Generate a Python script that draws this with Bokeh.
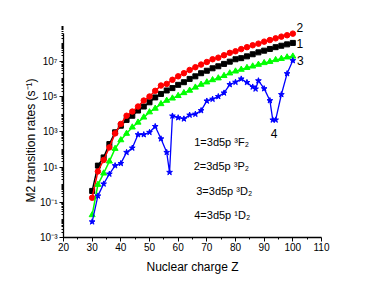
import math
from bokeh.plotting import figure
from bokeh.models import Range1d, FixedTicker, Label, Title
from bokeh.embed import file_html
from bokeh.resources import INLINE

Z = [30, 32, 34, 36, 38, 40, 42, 44, 46, 48, 50, 52, 54, 56, 58, 60, 62, 64,
     66, 68, 70, 72, 74, 76, 78, 80, 82, 84, 86, 88, 90, 92, 94, 96, 98, 100]

rate_3F2 = [4.4e-1, 1.2e1, 3.5e1, 2.0e2, 9.3e2, 2.2e3, 4.7e3, 8.1e3, 1.6e4, 2.7e4,
            4.7e4, 8.9e4, 1.4e5, 2.2e5, 3.0e5, 4.6e5, 6.5e5, 1.0e6, 1.4e6, 2.1e6,
            2.9e6, 4.0e6, 5.2e6, 7.1e6, 9.5e6, 1.3e7, 1.5e7, 1.9e7, 2.5e7, 3.2e7,
            4.0e7, 5.0e7, 6.3e7, 7.6e7, 9.1e7, 1.1e8]

rate_3P2 = [1.8e-1, 5.6, 2.5e1, 1.3e2, 8.1e2, 2.8e3, 8.1e3, 1.4e4, 2.7e4, 5.9e4,
            1.0e5, 2.1e5, 4.2e5, 5.2e5, 8.9e5, 1.4e6, 2.1e6, 3.2e6, 4.6e6, 6.5e6,
            9.1e6, 1.3e7, 1.6e7, 2.2e7, 3.0e7, 3.7e7, 4.9e7, 6.3e7, 8.1e7, 1.0e8,
            1.3e8, 1.6e8, 2.0e8, 2.5e8, 3.0e8, 3.7e8]

rate_3D2 = [1.9e-2, 1.0, 4.4, 2.1e1, 1.1e2, 3.4e2, 7.9e2, 1.8e3, 3.4e3, 6.6e3,
            1.3e4, 2.1e4, 3.8e4, 5.9e4, 7.9e4, 1.1e5, 1.6e5, 2.2e5, 3.3e5, 4.8e5,
            6.5e5, 8.7e5, 1.1e6, 1.5e6, 2.1e6, 2.7e6, 3.4e6, 4.3e6, 5.2e6, 6.5e6,
            8.1e6, 9.5e6, 1.2e7, 1.4e7, 1.7e7, 1.9e7]

Z4 = [30, 32, 34, 36, 38, 40, 42, 44, 46, 48, 50, 52, 54, 56, 57, 58, 60, 62, 64,
      66, 68, 70, 72, 74, 76, 78, 80, 82, 84, 86, 87, 88, 90, 92, 93, 94, 96, 98, 100]
rate_1D2 = [7.8e-3, 2.3e-1, 1.1, 4.0, 1.2e1, 1.6e1, 6.8e1, 1.2e2, 6.9e2, 6.9e2,
            9.3e2, 2.0e3, 4.0e2, 6.8e1, 5.0, 7.9e3, 6.3e3, 5.4e3, 8.9e3,
            1.0e4, 1.6e4, 5.6e4, 7.1e4, 1.0e5, 1.6e5, 4.8e5, 6.5e5, 1.0e6, 6.3e5,
            3.5e5, 2.7e5, 7.9e5, 2.8e5, 5.9e4, 4.7e3, 4.7e3, 1.3e5, 2.0e6, 1.1e7]

y_tick_values = [1e-3, 1e-1, 1e1, 1e3, 1e5, 1e7]
y_tick_labels = ["10\u207b\u00b3", "10\u207b\u00b9", "10\u00b9", "10\u00b3", "10\u2075", "10\u2077"]
x_ticks = [20, 30, 40, 50, 60, 70, 80, 90, 100, 110]

legend_texts = ["1=3d5p \u00b3F\u2082", "2=3d5p \u00b3P\u2082", "3=3d5p \u00b3D\u2082", "4=3d5p \u00b9D\u2082"]
curve_tags = ["1", "2", "3", "4"]

FONT = "Liberation Sans"

p = figure(width=370, height=282, x_range=Range1d(20, 110), y_range=Range1d(1e-3, 10 ** 9.2),
           y_axis_type="log", output_backend="svg", toolbar_location=None,
           min_border_left=63, min_border_right=49, min_border_top=22, min_border_bottom=45)
p.outline_line_color = None
p.grid.visible = False
p.background_fill_color = "white"

minor_y = [m * 10.0 ** e for e in range(-3, 9) for m in range(1, 10)]
p.yaxis.ticker = FixedTicker(ticks=y_tick_values, minor_ticks=minor_y)
p.yaxis.major_label_overrides = {v: t for v, t in zip(y_tick_values, y_tick_labels)}
p.yaxis.bounds = (1e-3, 3.7e8)
p.xaxis.ticker = FixedTicker(ticks=x_ticks, minor_ticks=[25, 35, 45, 55, 65, 75, 85, 95, 105])

for ax in (p.xaxis[0], p.yaxis[0]):
    ax.axis_line_color = "black"
    ax.axis_line_width = 1.3
    ax.major_tick_line_color = "black"
    ax.minor_tick_line_color = "black"
    ax.major_tick_in = 0
    ax.minor_tick_in = 0
    ax.major_tick_out = 4
    ax.minor_tick_out = 2
    ax.major_label_text_font = FONT
    ax.major_label_text_font_size = "10px"
    ax.major_label_text_color = "black"
    ax.axis_label_text_font = FONT
    ax.axis_label_text_font_style = "normal"
    ax.axis_label_text_font_size = "12px"
    ax.axis_label_text_color = "black"

p.xaxis.major_label_standoff = 1
p.yaxis.major_label_standoff = 2
p.xaxis.axis_label = "Nuclear charge Z"
p.xaxis.axis_label_standoff = 6

# y axis title
p.add_layout(Title(text="M2 transition rates (s\u207b\u00b9)", align="left", offset=35,
                   text_font=FONT, text_font_size="12px", text_font_style="normal",
                   text_color="black", standoff=0), "left")

# series
p.line(Z, rate_3F2, color="black", line_width=1.5)
p.scatter(Z, rate_3F2, marker="square", size=5, color="black")
p.line(Z, rate_3P2, color="#ff0000", line_width=1.5)
p.scatter(Z, rate_3P2, marker="circle", size=5.5, color="#ff0000")
p.line(Z, rate_3D2, color="#00ff00", line_width=1.5)
p.scatter(Z, rate_3D2, marker="triangle", size=6, color="#00ff00")
p.line(Z4, rate_1D2, color="#0000ff", line_width=1.3)
p.scatter(Z4, rate_1D2, marker="star", size=6, color="#0000ff")

# curve tags
tag_pos = [(102.4, 1.0e8), (102.4, 8.1e8), (102.6, 1.1e7), (93.5, 7.8e2)]
for t, (x, y) in zip(curve_tags, tag_pos):
    p.add_layout(Label(x=x, y=y, text=t, text_align="center", text_baseline="middle",
                       text_font=FONT, text_font_size="12px", text_color="black"))

# state legend
leg_pos = [(65.6, 2.7e2), (65.4, 11.8), (66.3, 0.45), (65.6, 0.0195)]
for t, (x, y) in zip(legend_texts, leg_pos):
    p.add_layout(Label(x=x, y=y, text=t, text_align="left", text_baseline="middle",
                       text_font=FONT, text_font_size="11px", text_color="black"))

open("out.html", "w").write(file_html(p, INLINE))
